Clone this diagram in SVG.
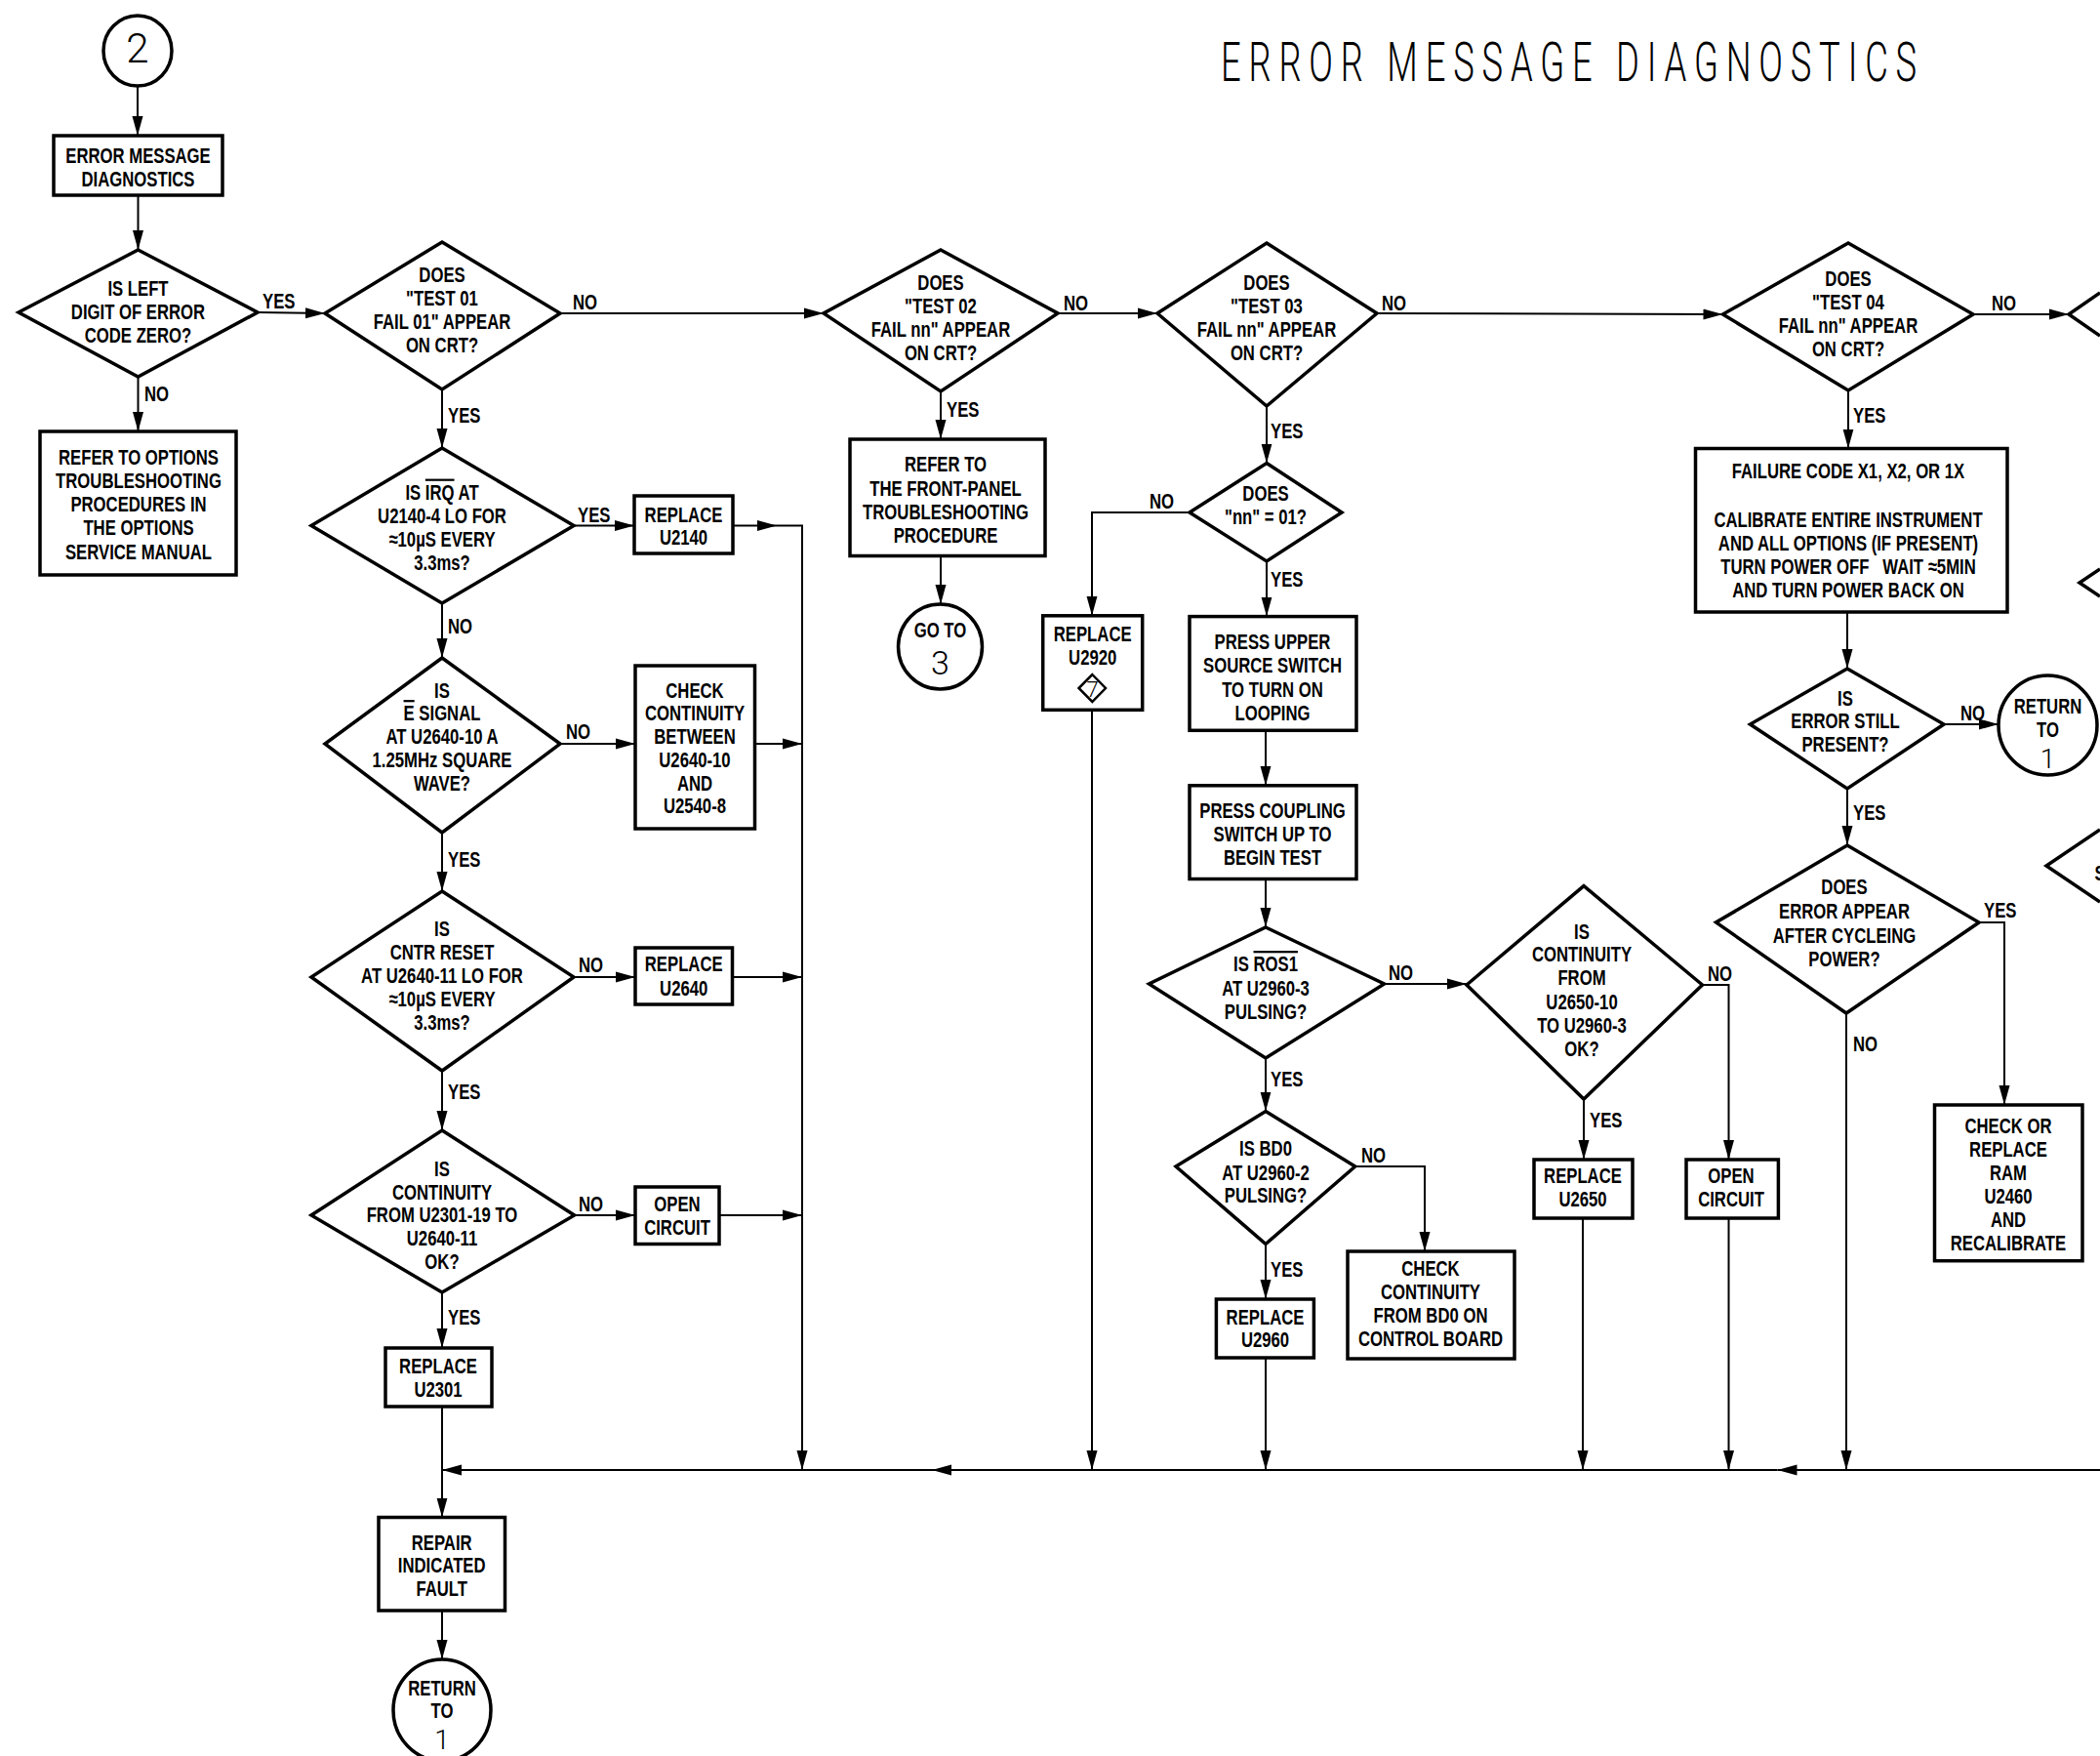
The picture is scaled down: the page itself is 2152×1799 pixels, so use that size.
<svg xmlns="http://www.w3.org/2000/svg" width="2152" height="1799" viewBox="0 0 2152 1799">
<defs>
<style>
.bx{fill:#fff;stroke:#000;stroke-width:3.5}
.dm{fill:#fff;stroke:#000;stroke-width:3.5;stroke-linejoin:miter}
.pd{fill:none;stroke:#000;stroke-width:3.5;stroke-linejoin:miter}
.cn{fill:none;stroke:#000;stroke-width:2}
.ar{marker-end:url(#ah)}
.t{font-family:"Liberation Sans",Arial,sans-serif;font-weight:700;font-size:22px;text-anchor:middle;fill:#000;transform-box:fill-box;transform-origin:50% 50%;transform:scaleX(.76)}
.lb{font-family:"Liberation Sans",Arial,sans-serif;font-weight:700;font-size:22px;fill:#000;transform-box:fill-box;transform-origin:0 50%;transform:scaleX(.76)}
.th{font-family:Roboto,"Open Sans","Liberation Sans",sans-serif;font-weight:300;text-anchor:middle;fill:#000}
.ttl{font-family:Roboto,"Open Sans","Liberation Sans",sans-serif;font-weight:300;font-size:56px;letter-spacing:12px;fill:#000;transform-box:fill-box;transform-origin:0 50%;transform:scaleX(.65)}
.ov{text-decoration:overline}
</style>
<marker id="ah" markerUnits="userSpaceOnUse" markerWidth="21" markerHeight="12" refX="20" refY="6" orient="auto"><path d="M0,0.5 L20,6 L0,11.5 Z" fill="#000"/></marker>
</defs>
<rect width="2152" height="1799" fill="#fff"/>
<text class="ttl" x="1251" y="83">ERROR MESSAGE DIAGNOSTICS</text>

<g id="n-start"><ellipse class="bx" cx="141" cy="52" rx="35" ry="36"/><text class="th" x="141" y="64" font-size="42">2</text></g>
<g id="n-emd"><rect class="bx" x="55" y="139" width="173" height="61"/><text class="t"><tspan x="141.5" y="167">ERROR MESSAGE</tspan><tspan x="141.5" y="191">DIAGNOSTICS</tspan></text></g>
<g id="n-q-left"><polygon class="dm" points="141.5,256 264,320 141.5,386 19,320"/><text class="t"><tspan x="141.5" y="303">IS LEFT</tspan><tspan x="141.5" y="327">DIGIT OF ERROR</tspan><tspan x="141.5" y="351">CODE ZERO?</tspan></text></g>
<g id="n-refer-options"><rect class="bx" x="41" y="442" width="201" height="147"/><text class="t"><tspan x="142" y="476">REFER TO OPTIONS</tspan><tspan x="142" y="500">TROUBLESHOOTING</tspan><tspan x="142" y="524">PROCEDURES IN</tspan><tspan x="142" y="548">THE OPTIONS</tspan><tspan x="142" y="573">SERVICE MANUAL</tspan></text></g>
<g id="n-q-test01"><polygon class="dm" points="453,248 574,321 453,399 333,321"/><text class="t"><tspan x="453" y="289">DOES</tspan><tspan x="453" y="313">"TEST 01</tspan><tspan x="453" y="337">FAIL 01" APPEAR</tspan><tspan x="453" y="361">ON CRT?</tspan></text></g>
<g id="n-q-irq"><polygon class="dm" points="453,459 588,538.5 453,618 319,538.5"/><text class="t"><tspan x="453" y="512">IS <tspan class="ov">IRQ</tspan> AT</tspan><tspan x="453" y="536">U2140-4 LO FOR</tspan><tspan x="453" y="560">≈10µS EVERY</tspan><tspan x="453" y="584">3.3ms?</tspan></text></g>
<g id="n-replace-u2140"><rect class="bx" x="650" y="508" width="101" height="59"/><text class="t"><tspan x="700.5" y="535">REPLACE</tspan><tspan x="700.5" y="558">U2140</tspan></text></g>
<g id="n-q-esignal"><polygon class="dm" points="453,674 574,762 453,853 333,762"/><text class="t"><tspan x="453" y="715">IS</tspan><tspan x="453" y="738.5"><tspan class="ov">E</tspan> SIGNAL</tspan><tspan x="453" y="762">AT U2640-10 A</tspan><tspan x="453" y="786">1.25MHz SQUARE</tspan><tspan x="453" y="810">WAVE?</tspan></text></g>
<g id="n-check-between"><rect class="bx" x="651" y="682" width="122.5" height="167"/><text class="t"><tspan x="712" y="715">CHECK</tspan><tspan x="712" y="738.5">CONTINUITY</tspan><tspan x="712" y="762">BETWEEN</tspan><tspan x="712" y="786">U2640-10</tspan><tspan x="712" y="810">AND</tspan><tspan x="712" y="833">U2540-8</tspan></text></g>
<g id="n-q-cntr"><polygon class="dm" points="453,913 588,1001 453,1097 319,1001"/><text class="t"><tspan x="453" y="959">IS</tspan><tspan x="453" y="983">CNTR RESET</tspan><tspan x="453" y="1007">AT U2640-11 LO FOR</tspan><tspan x="453" y="1031">≈10µS EVERY</tspan><tspan x="453" y="1055">3.3ms?</tspan></text></g>
<g id="n-replace-u2640"><rect class="bx" x="651" y="971" width="99.5" height="58"/><text class="t"><tspan x="700.7" y="995">REPLACE</tspan><tspan x="700.7" y="1020">U2640</tspan></text></g>
<g id="n-q-cont-u2301"><polygon class="dm" points="453,1158 588.6,1245 453,1324 319,1245"/><text class="t"><tspan x="453" y="1205">IS</tspan><tspan x="453" y="1229">CONTINUITY</tspan><tspan x="453" y="1252">FROM U2301-19 TO</tspan><tspan x="453" y="1276">U2640-11</tspan><tspan x="453" y="1300">OK?</tspan></text></g>
<g id="n-open-1"><rect class="bx" x="651" y="1216" width="86" height="58.5"/><text class="t"><tspan x="694" y="1241">OPEN</tspan><tspan x="694" y="1265">CIRCUIT</tspan></text></g>
<g id="n-replace-u2301"><rect class="bx" x="395" y="1381" width="109" height="60"/><text class="t"><tspan x="449" y="1407">REPLACE</tspan><tspan x="449" y="1431">U2301</tspan></text></g>
<g id="n-repair"><rect class="bx" x="388" y="1554.5" width="129.5" height="95.5"/><text class="t"><tspan x="452.7" y="1588">REPAIR</tspan><tspan x="452.7" y="1611.5">INDICATED</tspan><tspan x="452.7" y="1635.5">FAULT</tspan></text></g>
<g id="n-return-1a"><ellipse class="bx" cx="453" cy="1752" rx="50" ry="52"/><text class="t"><tspan x="453" y="1737">RETURN</tspan><tspan x="453" y="1760">TO</tspan></text><text class="th" x="453" y="1792" font-size="28">1</text></g>
<g id="n-q-test02"><polygon class="dm" points="964,256 1084,321 964,401 844,321"/><text class="t"><tspan x="964" y="297">DOES</tspan><tspan x="964" y="321">"TEST 02</tspan><tspan x="964" y="345">FAIL nn" APPEAR</tspan><tspan x="964" y="369">ON CRT?</tspan></text></g>
<g id="n-refer-front"><rect class="bx" x="871" y="450" width="200" height="119.5"/><text class="t"><tspan x="969" y="483">REFER TO</tspan><tspan x="969" y="508">THE FRONT-PANEL</tspan><tspan x="969" y="532">TROUBLESHOOTING</tspan><tspan x="969" y="556">PROCEDURE</tspan></text></g>
<g id="n-goto-3"><ellipse class="bx" cx="963.5" cy="662.5" rx="43" ry="43.5"/><text class="t"><tspan x="963.5" y="653">GO TO</tspan></text><text class="th" x="963.5" y="691" font-size="34">3</text></g>
<g id="n-q-test03"><polygon class="dm" points="1298,249 1411,321 1298,416 1186,321"/><text class="t"><tspan x="1298" y="297">DOES</tspan><tspan x="1298" y="321">"TEST 03</tspan><tspan x="1298" y="345">FAIL nn" APPEAR</tspan><tspan x="1298" y="369">ON CRT?</tspan></text></g>
<g id="n-q-nn01"><polygon class="dm" points="1298,474.5 1375,525 1298,575 1219,525"/><text class="t"><tspan x="1297" y="513">DOES</tspan><tspan x="1297" y="537">"nn" = 01?</tspan></text></g>
<g id="n-replace-u2920"><rect class="bx" x="1068.7" y="630.8" width="102" height="96.5"/><text class="t"><tspan x="1119.7" y="657">REPLACE</tspan><tspan x="1119.7" y="681">U2920</tspan></text><polygon fill="none" stroke="#000" stroke-width="2.5" points="1119.3,691 1133,705 1119.3,719 1105.5,705"/><text class="th" x="1119.5" y="714" font-size="22">7</text></g>
<g id="n-press-upper"><rect class="bx" x="1219" y="631.6" width="171" height="116.7"/><text class="t"><tspan x="1304" y="665">PRESS UPPER</tspan><tspan x="1304" y="689">SOURCE SWITCH</tspan><tspan x="1304" y="714">TO TURN ON</tspan><tspan x="1304" y="738">LOOPING</tspan></text></g>
<g id="n-press-coupling"><rect class="bx" x="1219" y="804.8" width="171" height="95.7"/><text class="t"><tspan x="1304" y="838">PRESS COUPLING</tspan><tspan x="1304" y="862">SWITCH UP TO</tspan><tspan x="1304" y="886">BEGIN TEST</tspan></text></g>
<g id="n-q-ros1"><polygon class="dm" points="1297,950 1418.5,1008 1297,1084 1177.5,1008"/><text class="t"><tspan x="1297" y="995.5">IS <tspan class="ov">ROS1</tspan></tspan><tspan x="1297" y="1020">AT U2960-3</tspan><tspan x="1297" y="1044">PULSING?</tspan></text></g>
<g id="n-q-bd0"><polygon class="dm" points="1297,1138.5 1388.7,1195 1297,1274.5 1205,1195"/><text class="t"><tspan x="1297" y="1184.5">IS BD0</tspan><tspan x="1297" y="1209">AT U2960-2</tspan><tspan x="1297" y="1232.5">PULSING?</tspan></text></g>
<g id="n-check-bd0"><rect class="bx" x="1381" y="1282" width="171" height="110"/><text class="t"><tspan x="1466" y="1307">CHECK</tspan><tspan x="1466" y="1331">CONTINUITY</tspan><tspan x="1466" y="1355">FROM BD0 ON</tspan><tspan x="1466" y="1379">CONTROL BOARD</tspan></text></g>
<g id="n-replace-u2960"><rect class="bx" x="1246.4" y="1331" width="100" height="60"/><text class="t"><tspan x="1296.5" y="1357">REPLACE</tspan><tspan x="1296.5" y="1380">U2960</tspan></text></g>
<g id="n-q-cont-u2650"><polygon class="dm" points="1623,907.6 1744.5,1009 1623,1126 1503,1009"/><text class="t"><tspan x="1621" y="962">IS</tspan><tspan x="1621" y="985.5">CONTINUITY</tspan><tspan x="1621" y="1009">FROM</tspan><tspan x="1621" y="1034">U2650-10</tspan><tspan x="1621" y="1058">TO U2960-3</tspan><tspan x="1621" y="1082">OK?</tspan></text></g>
<g id="n-replace-u2650"><rect class="bx" x="1572" y="1188" width="101" height="60"/><text class="t"><tspan x="1622" y="1212">REPLACE</tspan><tspan x="1622" y="1236">U2650</tspan></text></g>
<g id="n-open-2"><rect class="bx" x="1728" y="1188" width="94.4" height="60"/><text class="t"><tspan x="1774" y="1212">OPEN</tspan><tspan x="1774" y="1236">CIRCUIT</tspan></text></g>
<g id="n-q-test04"><polygon class="dm" points="1894,249 2022,322 1894,400 1765.5,322"/><text class="t"><tspan x="1894" y="293">DOES</tspan><tspan x="1894" y="317">"TEST 04</tspan><tspan x="1894" y="341">FAIL nn" APPEAR</tspan><tspan x="1894" y="365">ON CRT?</tspan></text></g>
<g id="n-failure"><rect class="bx" x="1737.5" y="459.5" width="319.5" height="167.5"/><text class="t"><tspan x="1894" y="490">FAILURE CODE X1, X2, OR 1X</tspan><tspan x="1894" y="540">CALIBRATE ENTIRE INSTRUMENT</tspan><tspan x="1894" y="564">AND ALL OPTIONS (IF PRESENT)</tspan><tspan x="1894" y="588">TURN POWER OFF&#160;&#160;&#160;WAIT ≈5MIN</tspan><tspan x="1894" y="612">AND TURN POWER BACK ON</tspan></text></g>
<g id="n-q-still"><polygon class="dm" points="1893,685 1992,742 1893,808 1793.5,742"/><text class="t"><tspan x="1891" y="723">IS</tspan><tspan x="1891" y="746.5">ERROR STILL</tspan><tspan x="1891" y="770">PRESENT?</tspan></text></g>
<g id="n-return-1b"><ellipse class="bx" cx="2098.5" cy="743" rx="50.5" ry="51"/><text class="t"><tspan x="2098.5" y="731">RETURN</tspan><tspan x="2098.5" y="755">TO</tspan></text><text class="th" x="2098.5" y="787" font-size="28">1</text></g>
<g id="n-q-cycle"><polygon class="dm" points="1893,866 2028,945 1892,1038 1758.5,945"/><text class="t"><tspan x="1890" y="916">DOES</tspan><tspan x="1890" y="941">ERROR APPEAR</tspan><tspan x="1890" y="966">AFTER CYCLEING</tspan><tspan x="1890" y="990">POWER?</tspan></text></g>
<g id="n-check-ram"><rect class="bx" x="1982.5" y="1132" width="151.5" height="159.7"/><text class="t"><tspan x="2058" y="1161">CHECK OR</tspan><tspan x="2058" y="1185">REPLACE</tspan><tspan x="2058" y="1209">RAM</tspan><tspan x="2058" y="1233">U2460</tspan><tspan x="2058" y="1257">AND</tspan><tspan x="2058" y="1281">RECALIBRATE</tspan></text></g>
<g id="n-partial-1"><polyline class="pd" points="2152,300 2120,322 2152,344"/></g>
<g id="n-partial-2"><polyline class="pd" points="2152,583 2131,597 2152,611"/></g>
<g id="n-partial-3"><polyline class="pd" points="2152,850 2097,887 2152,924"/><text class="lb" x="2146.5" y="902">S</text></g>

<g id="connectors">
<path class="cn ar" d="M141,88 V139"/>
<path class="cn ar" d="M141.5,200 V256"/>
<path class="cn ar" d="M264,320 L333,321"/>
<path class="cn ar" d="M141.5,386 V442"/>
<path class="cn ar" d="M574,321 H844"/>
<path class="cn ar" d="M453,399 V459"/>
<path class="cn ar" d="M588,538.5 H650"/>
<path class="cn ar" d="M751,538.5 H796"/>
<path class="cn ar" d="M796,538.5 H822 V1506"/>
<path class="cn ar" d="M453,618 V674"/>
<path class="cn ar" d="M574,762 H651"/>
<path class="cn ar" d="M773.5,762 H822"/>
<path class="cn ar" d="M453,853 V913"/>
<path class="cn ar" d="M588,1001 H651"/>
<path class="cn ar" d="M750.5,1001 H822"/>
<path class="cn ar" d="M453,1097 V1158"/>
<path class="cn ar" d="M588.6,1245 H651"/>
<path class="cn ar" d="M737,1245 H822"/>
<path class="cn ar" d="M453,1324 V1381"/>
<path class="cn ar" d="M453,1441 V1554.5"/>
<path class="cn ar" d="M453,1650 V1700"/>
<path class="cn ar" d="M2152,1506 H1821.5"/>
<path class="cn ar" d="M1821.5,1506 H955"/>
<path class="cn ar" d="M955,1506 H453"/>
<path class="cn ar" d="M1084,321 H1186"/>
<path class="cn ar" d="M964,401 V450"/>
<path class="cn ar" d="M964,569.5 V619"/>
<path class="cn ar" d="M1411,321 L1765.5,322"/>
<path class="cn ar" d="M1298,416 V474.5"/>
<path class="cn ar" d="M1219,525 H1119 V630.8"/>
<path class="cn ar" d="M1298,575 V631.6"/>
<path class="cn ar" d="M1119,727.3 V1506"/>
<path class="cn ar" d="M1297,748.3 V804.8"/>
<path class="cn ar" d="M1297,900.5 V950"/>
<path class="cn ar" d="M1418.5,1008 H1503"/>
<path class="cn ar" d="M1297,1084 V1138.5"/>
<path class="cn ar" d="M1388.7,1195 H1460 V1282"/>
<path class="cn ar" d="M1297,1274.5 V1331"/>
<path class="cn ar" d="M1297,1391 V1506"/>
<path class="cn ar" d="M1744.5,1009 H1771.5 V1188"/>
<path class="cn ar" d="M1623,1126 V1188"/>
<path class="cn ar" d="M1622,1248 V1506"/>
<path class="cn ar" d="M1771.5,1248 V1506"/>
<path class="cn ar" d="M2022,322 H2120"/>
<path class="cn ar" d="M1894,400 V459.5"/>
<path class="cn ar" d="M1893,627 V685"/>
<path class="cn ar" d="M1992,742 H2048"/>
<path class="cn ar" d="M1893,808 V866"/>
<path class="cn ar" d="M2028,945 H2054 V1132"/>
<path class="cn ar" d="M1892,1038 V1506"/>
<text class="lb" x="269" y="316">YES</text>
<text class="lb" x="148" y="411">NO</text>
<text class="lb" x="587" y="317">NO</text>
<text class="lb" x="459" y="433">YES</text>
<text class="lb" x="592" y="535">YES</text>
<text class="lb" x="459" y="649">NO</text>
<text class="lb" x="580" y="757">NO</text>
<text class="lb" x="459" y="888">YES</text>
<text class="lb" x="593" y="996">NO</text>
<text class="lb" x="459" y="1126">YES</text>
<text class="lb" x="593" y="1241">NO</text>
<text class="lb" x="459" y="1357">YES</text>
<text class="lb" x="1090" y="318">NO</text>
<text class="lb" x="970" y="427">YES</text>
<text class="lb" x="1416" y="318">NO</text>
<text class="lb" x="1302" y="449">YES</text>
<text class="lb" x="1178" y="521">NO</text>
<text class="lb" x="1302" y="601">YES</text>
<text class="lb" x="1423" y="1004">NO</text>
<text class="lb" x="1302" y="1113">YES</text>
<text class="lb" x="1395" y="1191">NO</text>
<text class="lb" x="1302" y="1308">YES</text>
<text class="lb" x="1750" y="1005">NO</text>
<text class="lb" x="1629" y="1155">YES</text>
<text class="lb" x="2041" y="318">NO</text>
<text class="lb" x="1899" y="433">YES</text>
<text class="lb" x="2009" y="738">NO</text>
<text class="lb" x="1899" y="840">YES</text>
<text class="lb" x="2033" y="940">YES</text>
<text class="lb" x="1899" y="1077">NO</text>
</g>
</svg>
